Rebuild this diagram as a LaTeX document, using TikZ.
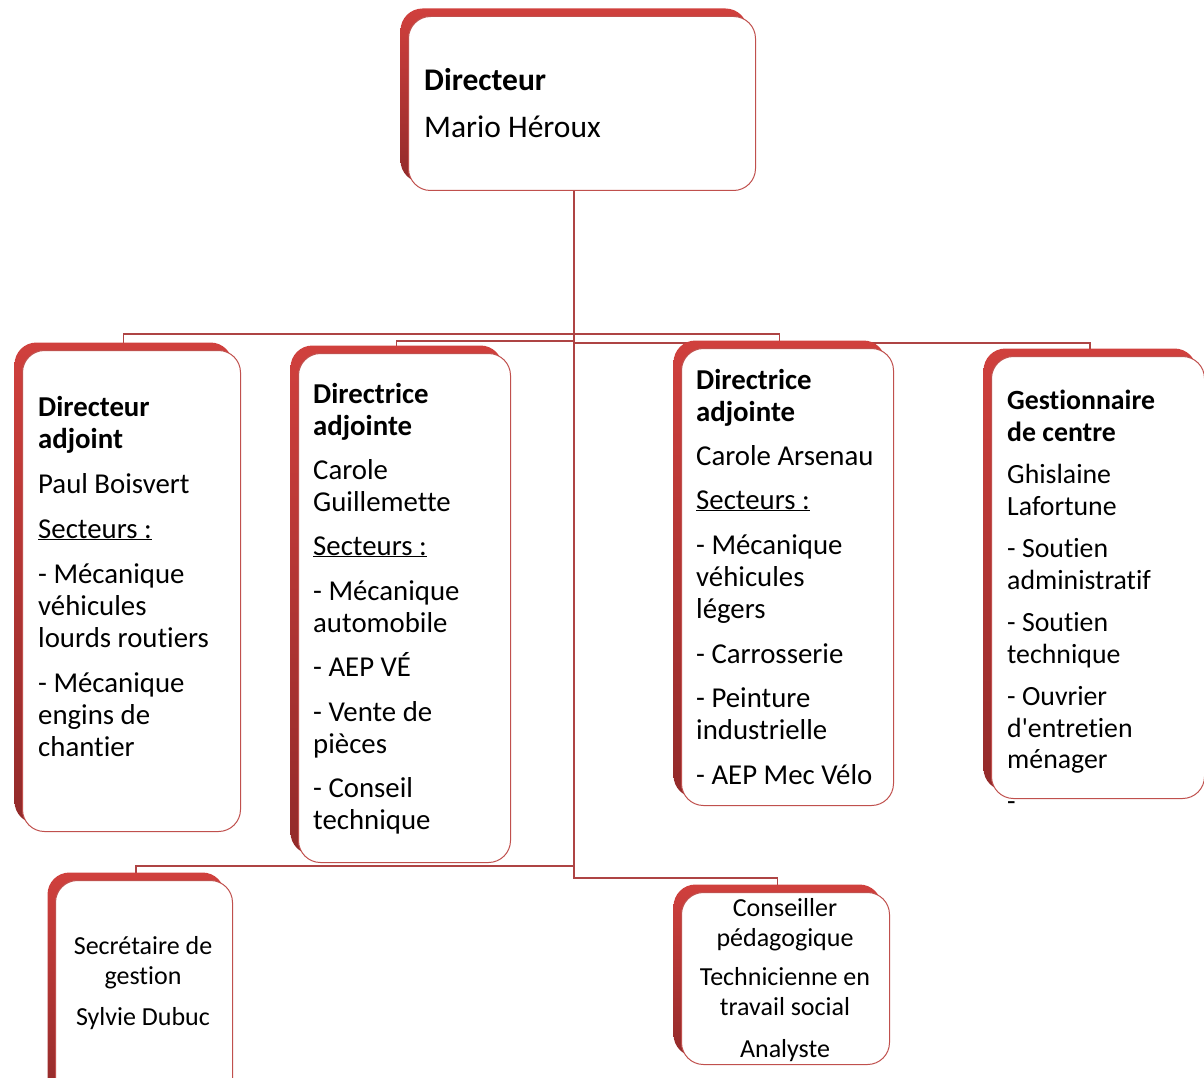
\documentclass[tikz,border=0pt]{standalone}
\usepackage{fontspec}
\setmainfont{Carlito}[Ligatures={TeX,NoCommon}]
\usetikzlibrary{backgrounds}

\definecolor{bandtop}{HTML}{D0403D}
\definecolor{bandbot}{HTML}{922A2A}
\definecolor{boxedge}{HTML}{C0504D}
\definecolor{linkred}{HTML}{AE4444}

\tikzset{
  orgbox/.style={draw=boxedge, fill=white, line width=1pt, rounded corners=22pt,
    anchor=north west, inner sep=0pt,
    preaction={draw=none, top color=bandtop, bottom color=bandbot,
      transform canvas={xshift=-8pt, yshift=8pt}}},
  boxtext/.style={anchor=base west, align=left, inner sep=0pt,
    font=\fontsize{28.8}{32}\selectfont},
  midtext/.style={anchor=base, align=center, inner sep=0pt,
    font=\fontsize{26}{30}\selectfont},
  link/.style={draw=linkred, line width=1.6pt}
}

\begin{document}
\begin{tikzpicture}[x=1pt, y=-1pt]
  \useasboundingbox (0,0) rectangle (1204,1078);
  \clip (0,0) rectangle (1204,1078);
  % boxes
  \node[orgbox, minimum width=347pt, minimum height=174pt] (dir) at (408,16) {};
  \node[orgbox, minimum width=218pt, minimum height=481pt] (adj1) at (22,350) {};
  \node[orgbox, minimum width=212pt, minimum height=509pt] (adj2) at (298,353) {};
  \node[orgbox, minimum width=212pt, minimum height=457pt] (adj3) at (681,348) {};
  \node[orgbox, minimum width=213pt, minimum height=442pt] (gest) at (991,356) {};
  \node[orgbox, minimum width=177pt, minimum height=230pt] (secr) at (55,880) {};
  \node[orgbox, minimum width=208pt, minimum height=172pt] (cons) at (681,892) {};
  % texts (base = last line)
  \node[boxtext, font=\fontsize{31.5}{47}\selectfont] (dirtxt) at (424,138)
    {\textbf{Directeur}\\Mario Héroux};
  \node[boxtext] (adj1txt) at (38,756)
    {\textbf{Directeur}\\\textbf{adjoint}\\[13pt]Paul Boisvert\\[13pt]\underline{Secteurs :}\\[13pt]%
     - Mécanique\\véhicules\\lourds routiers\\[13pt]- Mécanique\\engins de\\chantier};
  \node[boxtext] (adj2txt) at (313,829)
    {\textbf{Directrice}\\\textbf{adjointe}\\[12pt]Carole\\Guillemette\\[12pt]\underline{Secteurs :}\\[13pt]%
     - Mécanique\\automobile\\[12pt]- AEP VÉ\\[13pt]- Vente de\\pièces\\[12pt]- Conseil\\technique};
  \node[boxtext] (adj3txt) at (696,784)
    {\textbf{Directrice}\\\textbf{adjointe}\\[12pt]Carole Arsenau\\[12pt]\underline{Secteurs :}\\[13pt]%
     - Mécanique\\véhicules\\légers\\[13pt]- Carrosserie\\[12pt]- Peinture\\industrielle\\[13pt]- AEP Mec Vélo};
  \node[boxtext, font=\fontsize{27.8}{31.5}\selectfont] (gesttxt) at (1007,810)
    {\textbf{Gestionnaire}\\\textbf{de centre}\\[11pt]Ghislaine\\Lafortune\\[11pt]- Soutien\\administratif\\[11pt]%
     - Soutien\\technique\\[11pt]- Ouvrier\\d\textquotesingle entretien\\ménager\\[10pt]-};
  \node[midtext] (secrtxt) at (143,1025) {Secrétaire de\\gestion\\[11pt]Sylvie Dubuc};
  \node[midtext] (constxt) at (785,1057)
    {Conseiller\\pédagogique\\[9pt]Technicienne en\\travail social\\[12pt]Analyste};
  % connectors
  \begin{scope}[on background layer]
    \coordinate (trunk) at ([xshift=-8pt]dir.south);
    \draw[link] (trunk) -- (trunk |- 0,878) -| ([xshift=-8pt]cons.north);
    \draw[link] (trunk |- 0,334) -| ([xshift=-8pt]adj1.north);
    \draw[link] (trunk |- 0,341) -| ([xshift=-8pt]adj2.north);
    \draw[link] (trunk |- 0,334) -| ([xshift=-8pt]adj3.north);
    \draw[link] (trunk |- 0,343) -| ([xshift=-8pt]gest.north);
    \draw[link] (trunk |- 0,866) -| ([xshift=-8pt]secr.north);
  \end{scope}
\end{tikzpicture}
\end{document}
